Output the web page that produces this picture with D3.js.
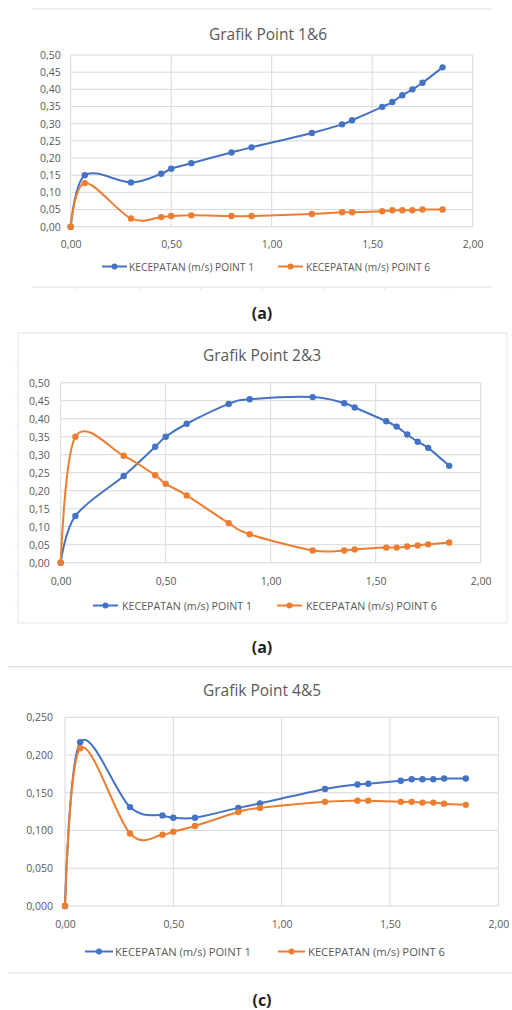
<!DOCTYPE html>
<html><head><meta charset="utf-8">
<script src="https://cdn.jsdelivr.net/npm/d3@7"></script>
<style>
html,body{margin:0;padding:0;background:#fff;}
svg{display:block;}
text{font-family:"Open Sans",sans-serif;}
</style></head>
<body>
<svg id="c" width="512" height="1010"></svg>
<script>
// ---------- DATA ----------
const xValues = [0, 0.07, 0.3, 0.45, 0.5, 0.6, 0.8, 0.9, 1.2, 1.35, 1.4, 1.55, 1.6, 1.65, 1.7, 1.75, 1.85];
const xTicks = [0, 0.5, 1.0, 1.5, 2.0];
const seriesNames = ["KECEPATAN (m/s) POINT 1", "KECEPATAN (m/s) POINT 6"];
const titles = ["Grafik Point 1&6", "Grafik Point 2&3", "Grafik Point 4&5"];
const captions = ["(a)", "(a)", "(c)"];

const chart1Point1 = [0, 0.150, 0.129, 0.154, 0.169, 0.185, 0.216, 0.231, 0.273, 0.298, 0.310, 0.349, 0.363, 0.383, 0.400, 0.419, 0.464];
const chart1Point6 = [0, 0.127, 0.024, 0.028, 0.031, 0.033, 0.031, 0.031, 0.037, 0.042, 0.042, 0.045, 0.048, 0.048, 0.048, 0.050, 0.050];

const chart2Point1 = [0, 0.130, 0.241, 0.322, 0.350, 0.386, 0.441, 0.454, 0.460, 0.443, 0.431, 0.393, 0.378, 0.356, 0.336, 0.319, 0.269];
const chart2Point6 = [0, 0.350, 0.297, 0.243, 0.219, 0.187, 0.110, 0.079, 0.034, 0.034, 0.037, 0.042, 0.042, 0.045, 0.048, 0.051, 0.056];

const chart3Point1 = [0, 0.217, 0.131, 0.120, 0.117, 0.117, 0.130, 0.136, 0.155, 0.161, 0.162, 0.166, 0.168, 0.168, 0.168, 0.169, 0.169];
const chart3Point6 = [0, 0.209, 0.096, 0.0945, 0.0985, 0.106, 0.1245, 0.130, 0.138, 0.1396, 0.1396, 0.138, 0.138, 0.137, 0.137, 0.1356, 0.134];

const yTicks12 = [0, 0.05, 0.10, 0.15, 0.20, 0.25, 0.30, 0.35, 0.40, 0.45, 0.50];
const yTicks3 = [0, 0.05, 0.10, 0.15, 0.20, 0.25];

// ---------- STYLE ----------
const BLUE = "#4472c4", ORANGE = "#ed7d31", GRID = "#d9d9d9", TXT = "#595959";
const svg = d3.select("#c");

const fmt = (d, dec) => d.toFixed(dec).replace(".", ",");

function drawChart(o) {
  const g = svg.append("g");
  const x = d3.scaleLinear().domain([0, 2]).range([o.left, o.right]);
  const y = d3.scaleLinear().domain([0, o.yMax]).range([o.bottom, o.top]);

  o.frame(g);

  g.append("text").attr("x", o.titleX).attr("y", o.titleY)
    .attr("text-anchor", "middle").attr("dominant-baseline", "central")
    .attr("font-size", 15.5).attr("fill", TXT).text(o.title);

  g.append("g").selectAll("line").data(o.yTicks).join("line")
    .attr("x1", o.left).attr("x2", o.right)
    .attr("y1", d => y(d)).attr("y2", d => y(d))
    .attr("stroke", GRID).attr("stroke-width", 1);
  g.append("g").selectAll("line").data(xTicks).join("line")
    .attr("x1", d => x(d)).attr("x2", d => x(d))
    .attr("y1", o.top).attr("y2", o.bottom)
    .attr("stroke", GRID).attr("stroke-width", 1);

  const yAxis = d3.axisLeft(y).tickValues(o.yTicks).tickSize(0).tickPadding(o.yPad)
    .tickFormat(d => fmt(d, o.yDec));
  const ya = g.append("g").attr("transform", `translate(${o.left},0)`).call(yAxis);
  ya.select(".domain").remove();
  ya.selectAll("text").attr("font-size", 10.5).attr("fill", TXT).attr("font-family", "Open Sans");

  const xAxis = d3.axisBottom(x).tickValues(xTicks).tickSize(0).tickPadding(o.xPad)
    .tickFormat(d => fmt(d, 2));
  const xa = g.append("g").attr("transform", `translate(0,${o.bottom})`).call(xAxis);
  xa.select(".domain").remove();
  xa.selectAll("text").attr("font-size", 10.5).attr("fill", TXT).attr("font-family", "Open Sans");

  const line = d3.line().x(d => x(d[0])).y(d => y(d[1])).curve(d3.curveCardinal.tension(0));
  const series = [[o.s1, BLUE], [o.s2, ORANGE]];
  series.forEach(([vals, col]) => {
    const pts = xValues.map((xv, i) => [xv, vals[i]]);
    g.append("path").datum(pts).attr("d", line)
      .attr("fill", "none").attr("stroke", col).attr("stroke-width", 2);
    g.append("g").selectAll("circle").data(pts).join("circle")
      .attr("cx", d => x(d[0])).attr("cy", d => y(d[1])).attr("r", 3.2)
      .attr("fill", col);
  });

  o.legend.forEach((lg, i) => {
    const col = i === 0 ? BLUE : ORANGE;
    g.append("line").attr("x1", lg.x0).attr("x2", lg.x1).attr("y1", o.legendY).attr("y2", o.legendY)
      .attr("stroke", col).attr("stroke-width", 2);
    g.append("circle").attr("cx", (lg.x0 + lg.x1) / 2).attr("cy", o.legendY).attr("r", 3).attr("fill", col);
    g.append("text").attr("x", lg.tx).attr("y", o.legendY).attr("dominant-baseline", "central")
      .attr("font-size", 10).attr("fill", TXT)
      .attr("textLength", lg.w).attr("lengthAdjust", "spacingAndGlyphs")
      .text(seriesNames[i]);
  });

  svg.append("text").attr("x", o.capX).attr("y", o.capY).attr("text-anchor", "middle")
    .attr("dominant-baseline", "central").attr("font-family", "Liberation Serif, DejaVu Serif, serif")
    .attr("font-weight", "bold").attr("font-size", 16).attr("fill", "#1f1f1f").text(o.caption);
}

function hline(g, x1, x2, yy) {
  g.append("line").attr("x1", x1).attr("x2", x2).attr("y1", yy).attr("y2", yy)
    .attr("stroke", "#dedede").attr("stroke-width", 1.2);
}

drawChart({
  left: 70.7, right: 472.7, top: 55, bottom: 226.7, yMax: 0.5, yTicks: yTicks12, yDec: 2,
  yPad: 10, xPad: 14, title: titles[0], titleX: 268, titleY: 34,
  s1: chart1Point1, s2: chart1Point6, legendY: 266.5,
  legend: [{x0: 102, x1: 127, tx: 129, w: 125}, {x0: 278, x1: 303, tx: 306, w: 124}],
  caption: captions[0], capX: 262, capY: 313,
  frame: g => {
    hline(g, 32, 492, 9);
    hline(g, 32, 492, 287);
    [77, 139, 201, 262, 323, 385, 448].forEach(t =>
      g.append("line").attr("x1", t).attr("x2", t).attr("y1", 287).attr("y2", 290)
        .attr("stroke", "#e4e4e4").attr("stroke-width", 1));
  }
});

drawChart({
  left: 60.7, right: 480.7, top: 382.7, bottom: 562.7, yMax: 0.5, yTicks: yTicks12, yDec: 2,
  yPad: 11, xPad: 15, title: titles[1], titleX: 262, titleY: 355,
  s1: chart2Point1, s2: chart2Point6, legendY: 605.5,
  legend: [{x0: 93, x1: 118, tx: 122, w: 130}, {x0: 277, x1: 302, tx: 306, w: 131}],
  caption: captions[1], capX: 262, capY: 647,
  frame: g => {
    g.append("rect").attr("x", 18).attr("y", 333).attr("width", 489).attr("height", 290)
      .attr("fill", "none").attr("stroke", "#e6e6e6").attr("stroke-width", 1);
    [365, 395, 425, 455, 485, 515, 545, 575, 605].forEach(t =>
      g.append("line").attr("x1", 15).attr("x2", 18).attr("y1", t).attr("y2", t)
        .attr("stroke", "#e8e8e8").attr("stroke-width", 1));
  }
});

drawChart({
  left: 65, right: 498.3, top: 717.3, bottom: 906, yMax: 0.25, yTicks: yTicks3, yDec: 3,
  yPad: 12, xPad: 15, title: titles[2], titleX: 262, titleY: 690,
  s1: chart3Point1, s2: chart3Point6, legendY: 951.5,
  legend: [{x0: 85, x1: 113, tx: 115, w: 136}, {x0: 278, x1: 305, tx: 308, w: 137}],
  caption: captions[2], capX: 262, capY: 1000,
  frame: g => {
    hline(g, 8, 512, 666.7);
    hline(g, 8, 512, 973);
  }
});
</script>
</body></html>
